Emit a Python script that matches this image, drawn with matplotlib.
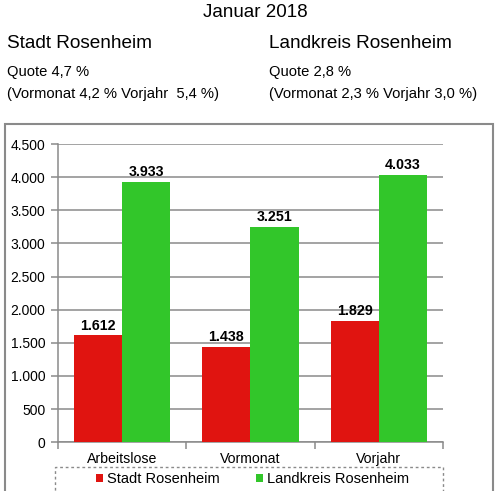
import numpy as np
import matplotlib
matplotlib.use("Agg")
from matplotlib import pyplot as plt
from matplotlib.patches import Rectangle

plt.rcParams['font.family'] = ['Liberation Sans', 'DejaVu Sans']

# data
categories = ['Arbeitslose', 'Vormonat', 'Vorjahr']
stadt = [1612, 1438, 1829]
landkreis = [3933, 3251, 4033]
series_names = ['Stadt Rosenheim', 'Landkreis Rosenheim']
yticks = [0, 500, 1000, 1500, 2000, 2500, 3000, 3500, 4000, 4500]

RED = '#e01410'
GREEN = '#32c62a'
GRAY = '#8a8a8a'

def fmt(v):
    # german thousands separator
    return '{:,}'.format(v).replace(',', '.')

fig = plt.figure(figsize=(5.0, 4.91), dpi=100)

# header texts
fig.text(0.51, 0.975, 'Januar 2018', ha='center', va='center', fontsize=13.5)
fig.text(0.014, 0.912, 'Stadt Rosenheim', ha='left', va='center', fontsize=13.7)
fig.text(0.538, 0.912, 'Landkreis Rosenheim', ha='left', va='center', fontsize=13.7)
fig.text(0.014, 0.853, 'Quote 4,7 %', ha='left', va='center', fontsize=10.6)
fig.text(0.538, 0.853, 'Quote 2,8 %', ha='left', va='center', fontsize=10.6)
fig.text(0.014, 0.808, '(Vormonat 4,2 % Vorjahr  5,4 %)', ha='left', va='center', fontsize=10.6)
fig.text(0.538, 0.808, '(Vormonat 2,3 % Vorjahr 3,0 %)', ha='left', va='center', fontsize=10.6)

# outer chart frame
fig.patches.append(Rectangle((0.010, -0.02), 0.976, 0.7675, transform=fig.transFigure,
                             fill=False, edgecolor=GRAY, linewidth=1.5))

ax = fig.add_axes([0.116, 0.0995, 0.77, 0.607])
x = np.arange(len(categories))
w = 0.375
b1 = ax.bar(x - w / 2, stadt, w, color=RED, label=series_names[0], zorder=3)
b2 = ax.bar(x + w / 2, landkreis, w, color=GREEN, label=series_names[1], zorder=3)

for bars, vals in ((b1, stadt), (b2, landkreis)):
    for r, v in zip(bars, vals):
        ax.annotate(fmt(v), (r.get_x() + r.get_width() / 2, v), xytext=(0, 2),
                    textcoords='offset points', ha='center', va='bottom',
                    fontsize=10.3, fontweight='bold')

ax.set_xlim(-0.5, 2.5)
ax.set_ylim(0, 4500)
ax.set_yticks(yticks)
ax.set_yticklabels([fmt(t) for t in yticks], fontsize=10)
ax.yaxis.grid(True, color=GRAY, linewidth=1.1, zorder=0)
ax.set_axisbelow(True)

ax.set_xticks(x)
ax.set_xticklabels(categories, fontsize=10.2)
ax.set_xticks(np.arange(-0.5, 3.0, 1.0), minor=True)
ax.tick_params(axis='x', which='major', length=0, pad=7)
ax.tick_params(axis='x', which='minor', length=5, color=GRAY, width=1.1)
ax.tick_params(axis='y', length=5, color=GRAY, width=1.1, pad=4)

for s in ('top', 'right'):
    ax.spines[s].set_visible(False)
for s in ('left', 'bottom'):
    ax.spines[s].set_color(GRAY)
    ax.spines[s].set_linewidth(1.1)

# legend with dotted box
fig.patches.append(Rectangle((0.110, -0.02), 0.776, 0.069, transform=fig.transFigure,
                             fill=False, edgecolor=GRAY, linewidth=1.0, linestyle=(0, (2, 2))))
fig.legend(handles=[b1, b2], loc='center', bbox_to_anchor=(0.505, 0.0245), ncol=2,
           frameon=False, fontsize=10.5, handlelength=0.5, handleheight=0.5,
           handletextpad=0.25, columnspacing=2.5, borderpad=0)

fig.savefig('out.png', dpi=100)
